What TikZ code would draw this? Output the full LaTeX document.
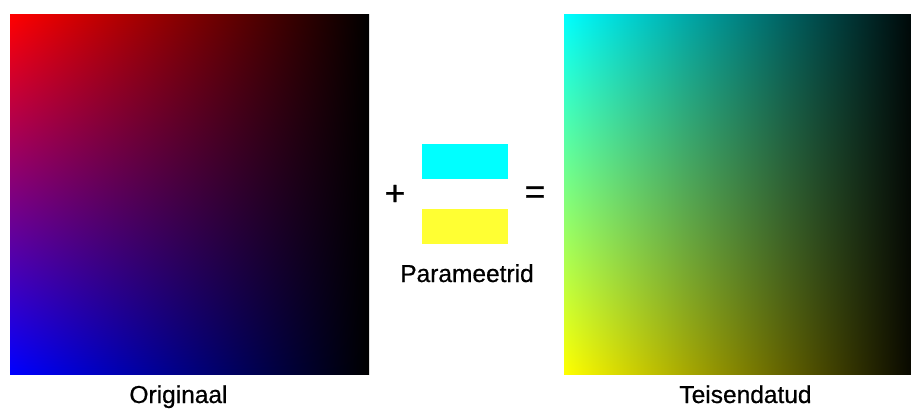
\documentclass[tikz,border=0pt]{standalone}
\usepackage{fontspec}
\setmainfont{Liberation Sans}
\newfontfamily\lblfont[FakeBold=0.6]{Liberation Sans}
\usetikzlibrary{shadings}
\definecolor{cyanp}{RGB}{0,255,255}
\definecolor{yellowp}{RGB}{255,255,51}
\definecolor{yelcorner}{RGB}{255,255,0}
\tikzset{
  lbl/.style={font=\lblfont\fontsize{24.5}{28}\selectfont, inner sep=0pt, text=black},
  op/.style={font=\lblfont\fontsize{35}{40}\selectfont, inner sep=0pt, text=black},
  patch/.style={draw=none, minimum width=86.3pt, minimum height=34.7pt, inner sep=0pt}
}
\begin{document}
\begin{tikzpicture}[x=1pt,y=1pt]
\useasboundingbox (0,0) rectangle (911,408);
\fill[white] (0,0) rectangle (911,408);
\begin{scope}
\clip (0,0) rectangle (911,408);
% original square
\shade[upper left=red, lower left=blue, upper right=black, lower right=black]
  (10,34) rectangle (369,393);
% transformed square
\shade[upper left=cyanp, lower left=yelcorner, upper right=black, lower right=black]
  (564,34) rectangle (923,393);
\end{scope}
\node[patch, fill=cyanp] (cy) at (464.85,246.35) {};
\node[patch, fill=yellowp] (ye) at (464.85,181.5) {};
\node[op] (plus) at (395,213) {+};
\node[op] (eq) at (535,213) {=};
\node[lbl, anchor=base] (par) at (467,126) {Parameetrid};
\node[lbl, anchor=base] (orig) at (178.5,5) {Originaal};
\node[lbl, anchor=base] (teis) at (745.5,5) {Teisendatud};
\end{tikzpicture}
\end{document}
